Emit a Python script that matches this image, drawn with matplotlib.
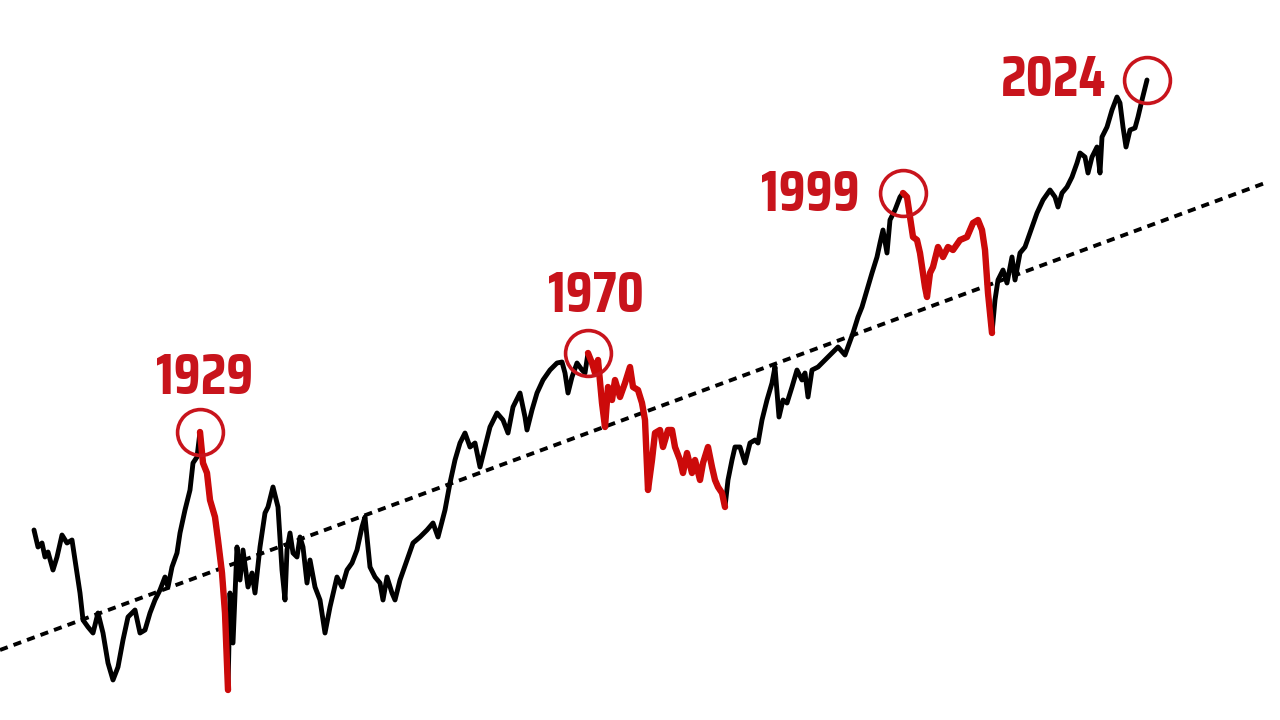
import matplotlib
matplotlib.use("Agg")
import matplotlib.pyplot as plt
import numpy as np

# Market level (log-scale units, arbitrary) by year
years = [1912.4, 1912.8, 1913.2, 1913.5, 1913.8, 1914.3, 1914.7, 1915.2, 1915.7, 1916.2,
         1916.5, 1917.0, 1917.3, 1917.8, 1918.3, 1918.8, 1919.3, 1919.8, 1920.3, 1920.8,
         1921.3, 1921.8, 1922.5, 1923.0, 1923.5, 1924.0, 1924.5, 1925.0, 1925.5, 1925.8,
         1926.2, 1926.7, 1927.0, 1927.5, 1928.0, 1928.3, 1928.7, 1929.0, 1929.3, 1929.7,
         1930.0, 1930.5, 1930.8, 1931.2, 1931.5, 1931.8, 1932.0, 1932.3, 1932.7, 1933.0,
         1933.3, 1933.8, 1934.2, 1934.5, 1935.0, 1935.5, 1935.8, 1936.3, 1936.8, 1937.2,
         1937.5, 1937.7, 1938.0, 1938.3, 1938.7, 1939.0, 1939.3, 1939.7, 1940.0, 1940.5,
         1941.0, 1941.5, 1942.0, 1942.7, 1943.2, 1943.7, 1944.2, 1944.7, 1945.2, 1945.5,
         1946.0, 1946.5, 1947.0, 1947.3, 1947.7, 1948.2, 1948.5, 1949.0, 1949.7, 1950.3,
         1951.0, 1951.7, 1952.3, 1952.8, 1953.5, 1954.0, 1954.5, 1955.0, 1955.5, 1956.0,
         1956.5, 1957.0, 1957.5, 1958.0, 1958.7, 1959.3, 1959.8, 1960.3, 1961.0, 1961.5,
         1961.7, 1962.2, 1962.7, 1963.3, 1964.0, 1964.7, 1965.2, 1965.5, 1965.8, 1966.2,
         1966.7, 1967.2, 1967.5, 1967.8, 1968.2, 1968.5, 1968.8, 1969.2, 1969.5, 1969.8,
         1970.2, 1970.5, 1971.0, 1971.5, 1972.0, 1972.3, 1972.8, 1973.2, 1973.5, 1973.8,
         1974.2, 1974.5, 1975.0, 1975.3, 1975.8, 1976.2, 1976.5, 1977.0, 1977.3, 1977.7,
         1978.2, 1978.5, 1979.0, 1979.3, 1979.8, 1980.2, 1980.5, 1980.8, 1981.2, 1981.5,
         1981.8, 1982.2, 1982.5, 1983.0, 1983.5, 1984.0, 1984.5, 1984.8, 1985.2, 1985.7,
         1986.2, 1986.5, 1986.9, 1987.3, 1987.7, 1988.2, 1988.7, 1989.2, 1989.5, 1989.8,
         1990.2, 1990.8, 1991.5, 1992.2, 1992.8, 1993.5, 1994.3, 1994.8, 1995.2, 1995.7,
         1996.2, 1996.7, 1997.0, 1997.3, 1997.7, 1998.0, 1998.5, 1999.0, 1999.3, 1999.7,
         2000.0, 2000.3, 2000.7, 2001.0, 2001.5, 2001.7, 2002.0, 2002.3, 2002.8, 2003.3,
         2003.8, 2004.3, 2005.0, 2005.7, 2006.3, 2006.8, 2007.2, 2007.5, 2007.8, 2008.2,
         2008.5, 2008.8, 2009.3, 2009.7, 2010.2, 2010.5, 2011.0, 2011.5, 2012.2, 2012.7,
         2013.3, 2014.0, 2014.5, 2014.8, 2015.2, 2015.7, 2016.2, 2016.7, 2017.0, 2017.5,
         2017.8, 2018.2, 2018.7, 2019.0, 2019.2, 2019.7, 2020.2, 2020.7, 2021.0, 2021.3,
         2021.6, 2022.0, 2022.5, 2022.8, 2023.2, 2023.7]
levels = [1.90, 1.73, 1.77, 1.63, 1.68, 1.50, 1.63, 1.85, 1.77, 1.80,
          1.60, 1.27, 1.00, 0.93, 0.87, 1.07, 0.87, 0.57, 0.40, 0.53,
          0.80, 1.03, 1.10, 0.87, 0.90, 1.07, 1.20, 1.30, 1.43, 1.33,
          1.53, 1.67, 1.87, 2.10, 2.30, 2.57, 2.63, 2.88, 2.57, 2.47,
          2.20, 2.03, 1.80, 1.47, 1.07, 0.30, 1.27, 0.77, 1.73, 1.40,
          1.70, 1.33, 1.47, 1.27, 1.73, 2.07, 2.13, 2.33, 2.13, 1.50,
          1.20, 1.70, 1.87, 1.67, 1.63, 1.83, 1.73, 1.37, 1.60, 1.33,
          1.20, 0.87, 1.13, 1.43, 1.33, 1.50, 1.57, 1.70, 1.93, 2.03,
          1.53, 1.43, 1.37, 1.20, 1.43, 1.27, 1.20, 1.40, 1.60, 1.77,
          1.83, 1.90, 1.97, 1.83, 2.10, 2.37, 2.60, 2.77, 2.87, 2.73,
          2.77, 2.53, 2.73, 2.93, 3.07, 3.00, 2.87, 3.13, 3.27, 3.03,
          2.90, 3.10, 3.27, 3.40, 3.50, 3.57, 3.58, 3.47, 3.27, 3.43,
          3.57, 3.50, 3.47, 3.67, 3.57, 3.47, 3.60, 3.17, 2.93, 3.33,
          3.20, 3.40, 3.23, 3.37, 3.53, 3.33, 3.30, 3.17, 3.00, 2.30,
          2.60, 2.87, 2.90, 2.73, 2.90, 2.90, 2.73, 2.60, 2.47, 2.67,
          2.47, 2.60, 2.40, 2.57, 2.73, 2.53, 2.40, 2.33, 2.27, 2.13,
          2.40, 2.60, 2.73, 2.73, 2.57, 2.77, 2.80, 2.77, 3.00, 3.20,
          3.37, 3.53, 3.03, 3.20, 3.17, 3.33, 3.50, 3.40, 3.47, 3.23,
          3.50, 3.53, 3.60, 3.67, 3.73, 3.65, 3.87, 4.03, 4.13, 4.30,
          4.47, 4.63, 4.77, 4.90, 4.67, 5.00, 5.10, 5.23, 5.27, 5.23,
          5.03, 4.83, 4.80, 4.67, 4.33, 4.23, 4.47, 4.53, 4.73, 4.63,
          4.73, 4.70, 4.80, 4.83, 4.97, 5.00, 4.90, 4.70, 4.27, 3.87,
          4.20, 4.40, 4.50, 4.37, 4.63, 4.40, 4.67, 4.73, 4.93, 5.07,
          5.20, 5.30, 5.23, 5.13, 5.27, 5.33, 5.43, 5.57, 5.67, 5.63,
          5.47, 5.63, 5.73, 5.47, 5.83, 5.93, 6.10, 6.23, 6.17, 5.93,
          5.73, 5.90, 5.92, 6.03, 6.20, 6.40]

# Drawdown periods (start = peak, end = trough)
crash_starts = [1929.0, 1967.8, 1999.3]
crash_ends = [1931.8, 1981.5, 2008.2]

# Long-run trend line
trend_years = [1909.0, 2035.5]
trend_levels = [0.70, 5.37]

# Highlighted peaks
peak_labels = ["1929", "1970", "1999", "2024"]
peak_years = [1929.0, 1967.8, 1999.3, 2023.7]

BLACK = "#000000"
RED = "#cc0a0a"
LABEL_RED = "#c8141c"

x = np.array(years)
y = np.array(levels)

fig = plt.figure(figsize=(12.8, 7.2), dpi=100)
ax = fig.add_axes([0, 0, 1, 1])
ax.set_xlim(1909.0, 2037.0)
ax.set_ylim(0.0, 7.2)
ax.axis("off")

ax.plot(trend_years, trend_levels, color=BLACK, lw=2.8,
        linestyle=(0, (2.1, 1.6)), zorder=1)

ax.plot(x, y, color=BLACK, lw=3.5, solid_joinstyle="round",
        solid_capstyle="round", zorder=2)

for s, e in zip(crash_starts, crash_ends):
    m = (x >= s - 1e-6) & (x <= e + 1e-6)
    ax.plot(x[m], y[m], color=RED, lw=4.6, solid_joinstyle="round",
            solid_capstyle="round", zorder=3)

label_offsets = [(3.6, 43), (5.8, 45), (-67, 2.5), (-67, 4)]
for lab, py_, off in zip(peak_labels, peak_years, label_offsets):
    i = int(np.argmin(np.abs(x - py_)))
    ax.plot(x[i], y[i], marker="o", markersize=33, markerfacecolor="none",
            markeredgecolor=LABEL_RED, markeredgewidth=2.6, zorder=4)
    ax.annotate(lab, (x[i], y[i]), xytext=off, textcoords="offset points",
                ha="center", va="center_baseline", color=LABEL_RED, fontsize=41,
                fontweight="bold", family=["Saira Condensed", "DejaVu Sans"],
                zorder=5)

fig.savefig("out.png", dpi=100, facecolor="white")
